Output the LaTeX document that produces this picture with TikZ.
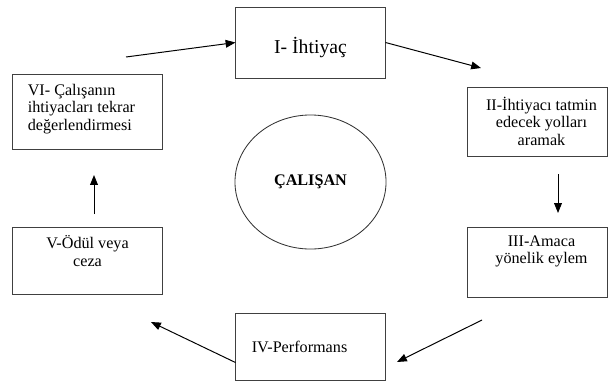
\documentclass[tikz,border=0pt]{standalone}
\usepackage{fontspec}
\setmainfont{Liberation Serif}
\usetikzlibrary{arrows.meta, positioning, shapes.geometric}

\begin{document}
\begin{tikzpicture}[x=0.025cm, y=-0.025cm,
    box/.style={draw=black!75, line width=0.7pt, rectangle, inner sep=0pt},
    txt/.style={font=\fontsize{11.5}{12.5}\selectfont, align=center, inner sep=0pt},
    arr/.style={-{Triangle[length=7pt, width=5.5pt]}, line width=0.7pt}]
  \useasboundingbox (0,0) rectangle (609,383);
  % Boxes of the cycle
  \node[box, minimum width=3.725cm, minimum height=1.775cm] (I) at (310.5,42.5) {};
  \node[box, minimum width=3.475cm, minimum height=1.725cm] (II) at (537.5,121.5) {};
  \node[box, minimum width=3.475cm, minimum height=1.75cm] (III) at (537.5,262) {};
  \node[box, minimum width=3.725cm, minimum height=1.675cm] (IV) at (310.5,346.5) {};
  \node[box, minimum width=3.725cm, minimum height=1.675cm] (V) at (87.5,260.5) {};
  \node[box, minimum width=3.725cm, minimum height=1.875cm] (VI) at (87.5,111.5) {};
  % Centre
  \node[draw=black!80, line width=0.6pt, ellipse, minimum width=3.775cm, minimum height=3.35cm,
    font=\fontsize{11.5}{12.5}\selectfont\bfseries] (C) at (310.5,182) {ÇALIŞAN};
  % Texts
  \node[txt, font=\fontsize{14}{16}\selectfont, yshift=-0.125cm] (It) at (I) {I- İhtiyaç};
  \node[txt, below=0.25cm of II.north, xshift=0.1cm] (IIt) {II-İhtiyacı tatmin\\edecek yolları\\aramak};
  \node[txt, below=0.22cm of III.north, xshift=0.1cm] (IIIt) {III-Amaca\\yönelik eylem};
  \node[txt, right=0.4cm of IV.west] (IVt) {IV-Performans};
  \node[txt, below=0.22cm of V.north] (Vt) {V-Ödül veya\\ceza};
  \node[txt, align=left, below right=0.25cm and 0.375cm of VI.north west] (VIt) {VI- Çalışanın\\ihtiyacları tekrar\\değerlendirmesi};
  % Free ends of the arrows
  \coordinate (a1) at (126,57);
  \coordinate (a2) at (481,68);
  \coordinate (a3) at (558,174);
  \coordinate (a4) at (558,213);
  \coordinate (a5) at (482,320);
  \coordinate (a6) at (397,362);
  \coordinate (a7) at (151,322);
  \coordinate (a8) at (94,214);
  \coordinate (a9) at (94,175);
  % Arrows
  \draw[arr] (a1) -- (I.west);
  \draw[arr] (I.east) -- (a2);
  \draw[arr] (a3) -- (a4);
  \draw[arr] (a5) -- (a6);
  \draw[arr] ([yshift=-0.4cm]IV.west) -- (a7);
  \draw[arr] (a8) -- (a9);
\end{tikzpicture}
\end{document}
